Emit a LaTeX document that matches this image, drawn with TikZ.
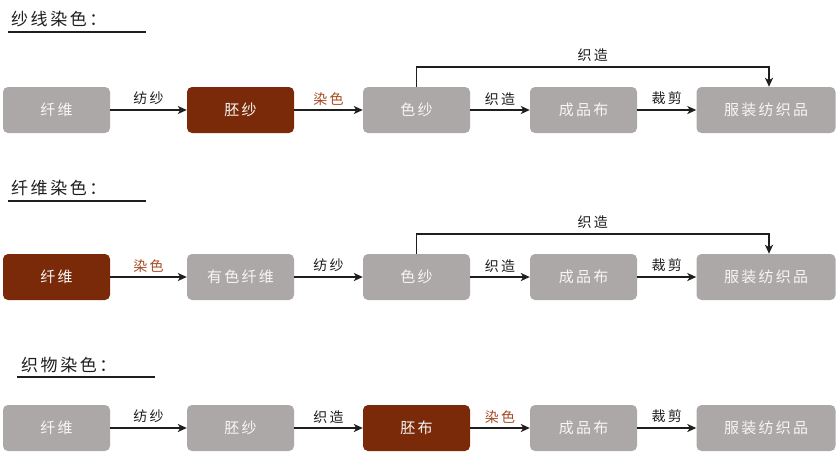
\documentclass[tikz,border=0pt]{standalone}
\usepackage{fontspec}
\setmainfont{Noto Sans CJK SC}[LetterSpace=15]
\usetikzlibrary{arrows.meta,calc}
\definecolor{boxgray}{RGB}{172,168,167}
\definecolor{boxbrown}{RGB}{122,42,8}
\definecolor{lblbrown}{RGB}{165,75,35}
\definecolor{linedark}{RGB}{30,30,30}
\definecolor{boxtext}{RGB}{246,246,246}
\begin{document}
\begin{tikzpicture}[x=1pt,y=1pt,
  stepbox/.style={rounded corners=5pt, minimum width=107pt, minimum height=46pt, fill=boxgray, text=boxtext, inner sep=0pt, font=\fontsize{15}{15}\selectfont},
  widebox/.style={stepbox, minimum width=139pt},
  hotbox/.style={stepbox, fill=boxbrown},
  arr/.style={-{Stealth[length=9pt,width=8pt,inset=2.5pt]}, line width=1.8pt, draw=linedark},
  lbl/.style={font=\fontsize{14}{14}\selectfont, text=linedark, above, inner sep=2pt, yshift=2pt},
  blbl/.style={lbl, text=lblbrown},
  ttl/.style={font=\fontsize{17}{17}\selectfont, text=linedark, anchor=west, inner sep=0pt},
  uline/.style={line width=1.6pt, draw=linedark}
]
\useasboundingbox (0,0) rectangle (838,-451);

% Row 1
\node[ttl] (t1) at (11,-19) {纱线染色：};
\coordinate (u1a) at (8,-32); \coordinate (u1b) at (146,-32);
\draw[uline] (u1a) -- (u1b);
\node[stepbox] (a1) at (56.5,-110) {纤维};
\node[hotbox]  (a2) at (240.5,-110) {胚纱};
\node[stepbox] (a3) at (416.5,-110) {色纱};
\node[stepbox] (a4) at (583.5,-110) {成品布};
\node[widebox] (a5) at (766,-110) {服装纺织品};
\draw[arr] (a1) -- node[lbl]{纺纱} (a2);
\draw[arr] (a2) -- node[blbl]{染色} (a3);
\draw[arr] (a3) -- node[lbl]{织造} (a4);
\draw[arr] (a4) -- node[lbl]{裁剪} (a5);
\draw[arr] (a3.north) -- ++(0,20) -| node[pos=0.25,lbl]{织造} ([xshift=3pt]a5.north);

% Row 2
\node[ttl] (t2) at (11,-188) {纤维染色：};
\coordinate (u2a) at (8,-201); \coordinate (u2b) at (146,-201);
\draw[uline] (u2a) -- (u2b);
\node[hotbox]  (b1) at (56.5,-277) {纤维};
\node[stepbox] (b2) at (240.5,-277) {有色纤维};
\node[stepbox] (b3) at (416.5,-277) {色纱};
\node[stepbox] (b4) at (583.5,-277) {成品布};
\node[widebox] (b5) at (766,-277) {服装纺织品};
\draw[arr] (b1) -- node[blbl]{染色} (b2);
\draw[arr] (b2) -- node[lbl]{纺纱} (b3);
\draw[arr] (b3) -- node[lbl]{织造} (b4);
\draw[arr] (b4) -- node[lbl]{裁剪} (b5);
\draw[arr] (b3.north) -- ++(0,20) -| node[pos=0.25,lbl]{织造} ([xshift=3pt]b5.north);

% Row 3
\node[ttl] (t3) at (21,-365) {织物染色：};
\coordinate (u3a) at (17,-377); \coordinate (u3b) at (155,-377);
\draw[uline] (u3a) -- (u3b);
\node[stepbox] (c1) at (56.5,-428) {纤维};
\node[stepbox] (c2) at (240.5,-428) {胚纱};
\node[hotbox]  (c3) at (416.5,-428) {胚布};
\node[stepbox] (c4) at (583.5,-428) {成品布};
\node[widebox] (c5) at (766,-428) {服装纺织品};
\draw[arr] (c1) -- node[lbl]{纺纱} (c2);
\draw[arr] (c2) -- node[lbl]{织造} (c3);
\draw[arr] (c3) -- node[blbl]{染色} (c4);
\draw[arr] (c4) -- node[lbl]{裁剪} (c5);
\end{tikzpicture}
\end{document}
